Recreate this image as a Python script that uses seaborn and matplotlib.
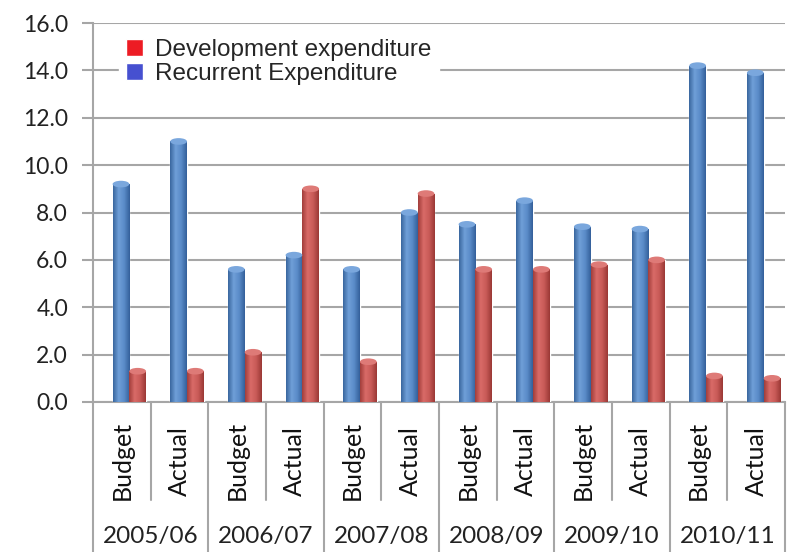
import numpy as np
import pandas as pd
import seaborn as sns
import matplotlib
matplotlib.use("Agg")
from matplotlib import pyplot as plt
from matplotlib.colors import LinearSegmentedColormap
from matplotlib.patches import Ellipse, Patch

years = ["2005/06", "2006/07", "2007/08", "2008/09", "2009/10", "2010/11"]
kinds = ["Budget", "Actual"]
recurrent = [9.2, 11.0, 5.6, 6.2, 5.6, 8.0, 7.5, 8.5, 7.4, 7.3, 14.2, 13.9]
development = [1.3, 1.3, 2.1, 9.0, 1.7, 8.8, 5.6, 5.6, 5.8, 6.0, 1.1, 1.0]

cats = [y + " " + k for y in years for k in kinds]
df = pd.DataFrame({
    "cat": cats * 2,
    "value": recurrent + development,
    "series": ["Recurrent Expenditure"] * 12 + ["Development expenditure"] * 12,
})

sns.set_style("white")
plt.rcParams["font.family"] = ["Lato", "DejaVu Sans"]

fig = plt.figure(figsize=(7.95, 5.52), dpi=100)
ax = fig.add_axes([93 / 795, 1 - 402 / 552, 692 / 795, 379 / 552])

blue = "#4F81BD"
red = "#C0504D"
sns.barplot(data=df, x="cat", y="value", hue="series", order=cats,
            hue_order=["Recurrent Expenditure", "Development expenditure"],
            palette=[blue, red], width=0.58, saturation=1, legend=False,
            ax=ax, zorder=3)

# cylinder shading
cmap_b = LinearSegmentedColormap.from_list("b", ["#3A679E", "#6F9FD8", "#5A8BC8", "#34609A"])
cmap_r = LinearSegmentedColormap.from_list("r", ["#A23E3B", "#D96B68", "#C85A57", "#9A3835"])
grad = np.linspace(0, 1, 64).reshape(1, -1)
for p in list(ax.patches):
    x0, y0 = p.get_x(), p.get_y()
    w, h = p.get_width(), p.get_height()
    if h <= 0:
        continue
    is_blue = matplotlib.colors.to_hex(p.get_facecolor()).lower() == blue.lower()
    cm = cmap_b if is_blue else cmap_r
    im = ax.imshow(grad, extent=[x0, x0 + w, y0, y0 + h], aspect="auto",
                   cmap=cm, zorder=4)
    im.set_clip_path(p)
    top = "#7AA7DD" if is_blue else "#DE7A77"
    ax.add_patch(Ellipse((x0 + w / 2, y0 + h), w, 0.28, facecolor=top,
                         edgecolor="none", zorder=5))

ax.set_xlim(-0.63, 11.37)
ax.set_ylim(0, 16)
ax.set_yticks(np.arange(0, 17, 2))
ax.set_yticklabels([f"{v:.1f}" for v in np.arange(0, 17, 2)])
ax.set_xticks([])
ax.set_xlabel("")
ax.set_ylabel("")
ax.yaxis.grid(True, color="#A6A6A6", lw=1.5, zorder=0)
ax.set_axisbelow(True)
ax.tick_params(axis="y", left=True, length=8, width=1.5, color="#A6A6A6",
               pad=10, labelsize=16.5, labelcolor="#222222")
for s in ["top", "right"]:
    ax.spines[s].set_visible(False)
for s in ["left", "bottom"]:
    ax.spines[s].set_color("#A6A6A6")
    ax.spines[s].set_linewidth(1.5)

# category labels and separators below the axis
sep_color = "#A6A6A6"
for k in range(13):
    bottom = -0.40 if k % 2 == 0 else -0.259
    ax.plot([k / 12, k / 12], [0, bottom], transform=ax.transAxes,
            color=sep_color, lw=1.5, clip_on=False)
for k, c in enumerate(cats):
    ax.text((k + 0.5) / 12, -0.155, c.split(" ")[1], transform=ax.transAxes,
            rotation=90, ha="center", va="center", fontsize=18, color="#111111")
for j, yr in enumerate(years):
    ax.text((2 * j + 1) / 12, -0.356, yr, transform=ax.transAxes,
            ha="center", va="center", fontsize=17.5, color="#222222")

handles = [Patch(facecolor="#ED1C24", label="Development expenditure"),
           Patch(facecolor="#4650D0", label="Recurrent Expenditure")]
leg = ax.legend(handles=handles, loc="upper left", bbox_to_anchor=(0.02, 1.01),
                frameon=True, framealpha=1, edgecolor="white", fancybox=False,
                prop={"family": "Liberation Sans", "size": 17.5},
                handlelength=0.7, handleheight=0.7, handletextpad=0.5,
                labelspacing=0.1, borderpad=0.3)
leg.set_zorder(10)

fig.savefig("out.png", dpi=100)
